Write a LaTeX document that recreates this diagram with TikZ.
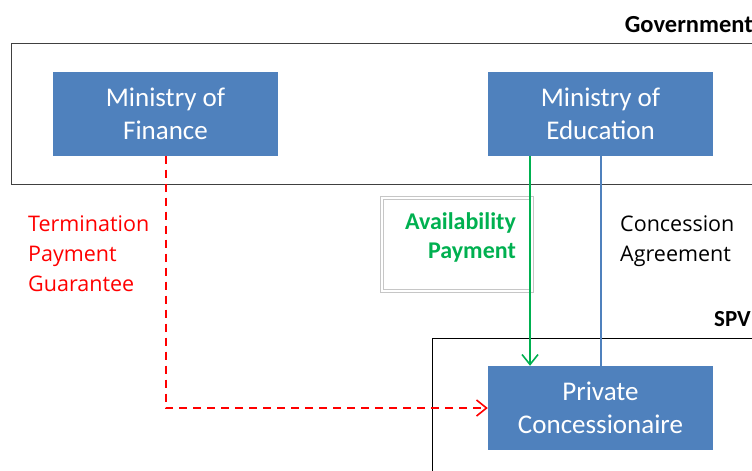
\documentclass[tikz,border=0pt]{standalone}
\usepackage{fontspec}
\setmainfont{Carlito}
\newfontfamily\labelfont{Open Sans}
\usetikzlibrary{arrows.meta,positioning}
\definecolor{boxblue}{HTML}{4F81BD}
\definecolor{pgreen}{HTML}{00B050}
\definecolor{pred}{HTML}{FF0000}
\definecolor{framegray}{HTML}{404040}
\tikzset{
  entity/.style={fill=boxblue, draw=none, minimum width=225pt, minimum height=84pt,
    text=white, align=center, font=\fontsize{27}{33}\selectfont, inner sep=0pt},
  groupframe/.style={draw=framegray, line width=1pt},
  grouptitle/.style={font=\fontsize{24.5}{27}\selectfont\bfseries, anchor=base east, inner sep=0pt},
  sidelabel/.style={font=\labelfont\fontsize{21.5}{30}\selectfont, align=left, anchor=north west, inner sep=0pt},
  barb/.style={-{Straight Barb[length=10pt,width=16pt,line width=1.6pt]}},
}
\begin{document}
\begin{tikzpicture}[x=1pt,y=-1pt]
\useasboundingbox (0,0) rectangle (752,471);
\clip (0,0) rectangle (752,471);
% group frames
\draw[groupframe] (11,43.5) rectangle (780,184);
\draw[draw=black, line width=1pt] (432.5,338) rectangle (780,500);
\node[grouptitle] (govt) at (753,32) {Government};
\node[grouptitle, font=\fontsize{23}{27}\selectfont\bfseries] (spv) at (751,326) {SPV};
% entities
\node[entity] (fin) at (165.5,113.5) {Ministry of\\Finance};
\node[entity] (edu) at (600.5,113.5) {Ministry of\\Education};
\node[entity] (pc) at (600.5,408) {Private\\Concessionaire};
% availability label box
\node[draw=gray!45, double=white, double distance=2pt, line width=0.6pt,
      minimum width=150pt, minimum height=93pt, inner sep=0pt] (avbox) at (457,244.5) {};
\node[font=\fontsize{24}{29}\selectfont\bfseries, text=pgreen, align=right,
      anchor=north east, inner sep=0pt] (avtxt) at (516,212) {Availability\\Payment};
% side labels
\node[sidelabel, text=pred] (tpg) at (28,216) {Termination\\Payment\\Guarantee};
\node[sidelabel] (ca) at (620,216) {Concession\\Agreement};
% connectors
\draw[pred, line width=2pt, dash pattern=on 8pt off 6pt, barb] (fin.south) |- (pc.west);
\draw[pgreen, line width=2pt, barb] ([xshift=-70.5pt]edu.south) -- ([xshift=-70.5pt]pc.north);
\draw[boxblue, line width=2pt] (edu.south) -- (pc.north);
\end{tikzpicture}
\end{document}
